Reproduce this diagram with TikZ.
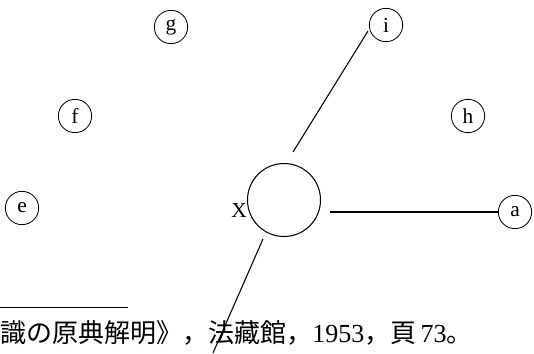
\documentclass[tikz,border=0pt]{standalone}
\usepackage{fontspec}
\setmainfont{Liberation Serif}
\newfontfamily\cjk{Noto Sans CJK JP}
\begin{document}
\begin{tikzpicture}[x=0.75pt,y=-0.75pt,
  letter/.style={circle,draw,line width=0.6pt,minimum size=25pt,inner sep=0pt,font=\fontsize{16}{18}\selectfont},
  bigc/.style={circle,draw,line width=0.8pt,minimum size=54.75pt,inner sep=0pt},
  conn/.style={line width=0.8pt}]
\useasboundingbox (0,0) rectangle (534,353);
\node[letter] (g) at (171,27) {g};
\node[letter] (i) at (386,25) {i};
\node[letter] (f) at (75,116) {f};
\node[letter] (h) at (468,116) {h};
\node[letter] (e) at (22,208) {e};
\node[letter] (a) at (515,212) {a};
\node[bigc] (x) at (284,200) {};
\node[font=\fontsize{16}{18}\selectfont,inner sep=0pt] (xl) at (239,211) {X};
\coordinate (i1) at (368,31);
\coordinate (x1) at (293,152);
\coordinate (x2) at (330,212);
\coordinate (x3) at (263,239);
\coordinate (b3) at (213,353);
\draw[conn] (i1) -- (x1);
\draw[conn] (x2) -- (a.west);
\draw[conn] (x3) -- (b3);
\coordinate (r0) at (0,307);
\coordinate (r1) at (128,307);
\draw[line width=0.75pt] (r0) -- (r1);
\node[anchor=base west,inner sep=0pt,font=\fontsize{19.5}{22}\selectfont] (fn) at (0,342)
  {{\cjk 識の原典解明》，法藏館，}1953{\cjk ，頁}\,73{\cjk 。}};
\end{tikzpicture}
\end{document}
